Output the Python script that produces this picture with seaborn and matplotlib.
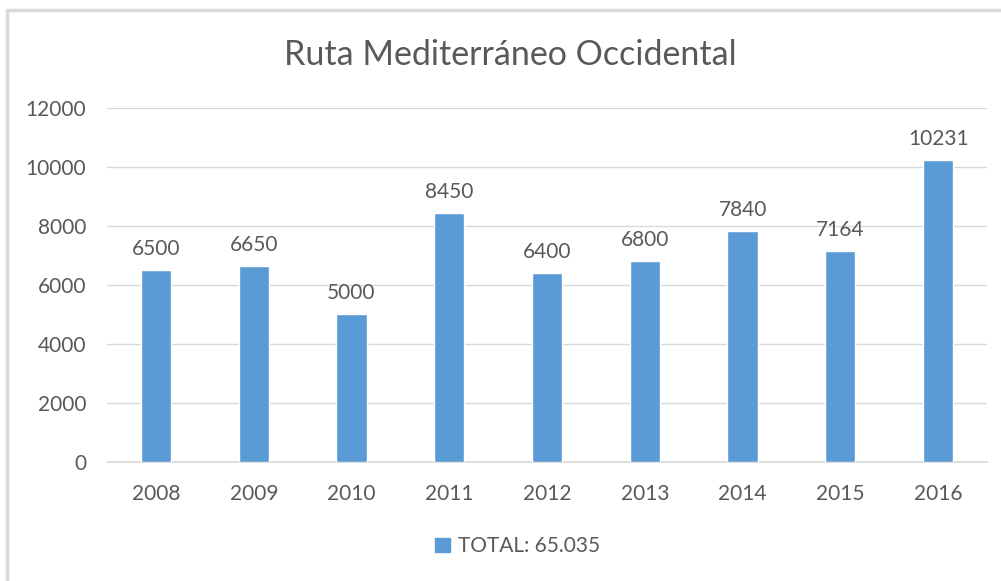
import numpy as np
import pandas as pd
import seaborn as sns
import matplotlib.pyplot as plt
from matplotlib.patches import Rectangle, Patch

# Data
years = ["2008", "2009", "2010", "2011", "2012", "2013", "2014", "2015", "2016"]
values = [6500, 6650, 5000, 8450, 6400, 6800, 7840, 7164, 10231]
legend_label = "TOTAL: 65.035"
title = "Ruta Mediterráneo Occidental"

BAR = "#5B9BD5"
TXT = "#595959"
GRID = "#D9D9D9"

sns.set_theme(style="white")
plt.rcParams["font.family"] = ["Lato", "DejaVu Sans"]

df = pd.DataFrame({"year": years, "value": values})

fig = plt.figure(figsize=(10.01, 5.81), dpi=100)
ax = fig.add_axes([0.107, 0.205, 0.879, 0.609])

sns.barplot(data=df, x="year", y="value", color=BAR, width=0.31,
            saturation=1, ax=ax, zorder=3)

# Value labels
for i, v in enumerate(values):
    ax.annotate(f"{v}", (i, v), xytext=(0, 8), textcoords="offset points",
                ha="center", va="bottom", fontsize=15, color=TXT)

ax.set_ylim(0, 12000)
ax.set_yticks(np.arange(0, 12001, 2000))
ax.set_xlim(-0.5, len(years) - 0.5)
ax.yaxis.grid(True, color=GRID, linewidth=1, zorder=0)
ax.set_axisbelow(True)
for s in ["top", "right", "left"]:
    ax.spines[s].set_visible(False)
ax.spines["bottom"].set_color(GRID)
ax.tick_params(axis="both", length=0, labelsize=15, colors=TXT)
ax.tick_params(axis="y", pad=15)
ax.tick_params(axis="x", pad=16)
ax.set_xlabel("")
ax.set_ylabel("")

fig.text(0.51, 0.905, title, ha="center", va="center", fontsize=24.5, color=TXT)

handle = Patch(facecolor=BAR, edgecolor=BAR)
fig.legend([handle], [legend_label], loc="center", bbox_to_anchor=(0.517, 0.06),
           frameon=False, fontsize=15, labelcolor=TXT, handlelength=0.7,
           handleheight=0.7, handletextpad=0.4)

# Chart-area border (only left/top visible in the reference)
fig.patches.append(Rectangle((7 / 1001, -0.05), 1.1, 1 - 10 / 581 + 0.05,
                             transform=fig.transFigure, fill=False,
                             edgecolor=GRID, linewidth=2.5))

fig.savefig("out.png", dpi=100)
